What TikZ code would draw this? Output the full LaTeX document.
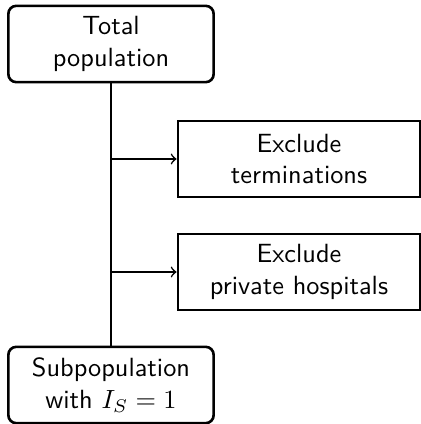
\documentclass[tikz,border=0pt]{standalone}
\usetikzlibrary{shapes,calc}

\begin{document}
\begin{tikzpicture}[x=0.38pt,y=-0.38pt,font=\sffamily,
    rbox/.style={draw,line width=1pt,rounded corners=3pt,align=center,minimum width=78pt,minimum height=29pt,inner sep=0pt},
    ebox/.style={draw,line width=1pt,align=center,minimum width=92pt,minimum height=29pt,inner sep=0pt}]
            \useasboundingbox (0, 0) rectangle (421, 424);
            \node [rbox] (T) at (111, 44) {Total\\population};%
            \node [rbox] (S) at (111, 385) {Subpopulation\\with $I_S=1$};%
            \node [ebox] (E1) at (299, 159) {Exclude\\terminations};%
            \node [ebox] (E2) at (299, 272) {Exclude\\private hospitals};%
            \draw[semithick] (T) to (S);
            \draw[semithick,->] (T.south |- E1.west) to (E1.west);
            \draw[semithick,->] (T.south |- E2.west) to (E2.west);
        \end{tikzpicture}
\end{document}
